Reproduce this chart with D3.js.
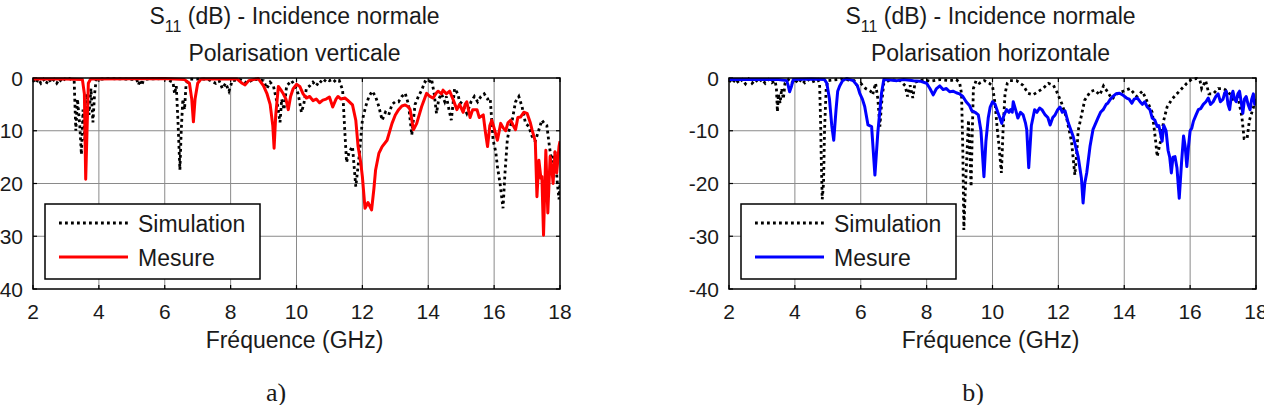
<!DOCTYPE html>
<html>
<head>
<meta charset="utf-8">
<script src="https://cdn.jsdelivr.net/npm/d3@7"></script>
<style>
  body { margin: 0; background: #fff; }
  text { font-family: "Liberation Sans", Arial, sans-serif; fill: #1a1a1a; }
</style>
</head>
<body>
<div id="chart"></div>
<script>
var width = 1264;
var height = 405;

// tick labels
var xTicks = [2, 4, 6, 8, 10, 12, 14, 16, 18];
var yTicks = [0, -10, -20, -30, -40];

// a) polarisation verticale : [GHz, dB]
var simV = [[2,-0.3],[2.08,-1],[2.16,-0.2],[2.24,-1],[2.32,-0.3],[2.4,-1.1],[2.48,-0.2],[2.56,-0.9],[2.64,-0.3],[2.72,-1],[2.8,-0.2],[2.88,-0.8],[2.96,-0.2],[3.1,-0.1],[3.25,-0.5],[3.3,-10],[3.35,-4],[3.42,-9],[3.47,-14.5],[3.52,-6],[3.58,-12],[3.63,-3],[3.7,-7],[3.76,-2],[3.82,-8.4],[3.87,-3],[3.92,-0.3],[4.3,-0.1],[4.8,-0.2],[5.15,-0.3],[5.2,-1.3],[5.25,-0.4],[5.3,-1.4],[5.35,-0.5],[5.45,-0.2],[6.0,-0.1],[6.25,-0.8],[6.3,-3],[6.35,-1.5],[6.4,-8],[6.46,-17.4],[6.5,-10],[6.55,-4],[6.6,-6],[6.65,-1],[6.75,-0.2],[7.3,-0.2],[7.55,-1],[7.65,-0.5],[7.75,-2],[7.85,-1],[7.95,-2.5],[8.05,-0.5],[8.3,-0.3],[8.5,-1],[8.7,-0.2],[9.0,-0.5],[9.1,-2],[9.2,-0.8],[9.3,-1.5],[9.42,-5],[9.5,-8.4],[9.55,-4],[9.62,-6],[9.7,-1.5],[9.85,-0.5],[9.95,-1.5],[10.05,-3],[10.15,-6.5],[10.22,-5],[10.3,-2],[10.4,-1.5],[10.5,-0.8],[10.6,-1.5],[10.7,-0.5],[10.8,-1],[10.9,-0.2],[11.0,-0.5],[11.1,-0.2],[11.2,-0.8],[11.3,-0.5],[11.4,-2.3],[11.47,-10.5],[11.52,-16],[11.6,-14],[11.7,-13],[11.8,-20.6],[11.9,-15],[12.0,-8],[12.1,-5.4],[12.2,-3.5],[12.3,-2.5],[12.4,-3.5],[12.5,-5.4],[12.6,-8],[12.7,-6.5],[12.8,-7],[12.9,-5],[13.0,-4.5],[13.1,-4.5],[13.2,-3.5],[13.3,-2.9],[13.4,-5],[13.5,-10.8],[13.6,-5],[13.7,-3.5],[13.8,-2.3],[13.9,-0.7],[14.0,-1],[14.1,-0.2],[14.18,-3],[14.25,-6.7],[14.32,-4],[14.4,-3],[14.5,-4.5],[14.55,-3.5],[14.63,-6],[14.7,-8],[14.8,-2],[14.9,-3],[14.95,-4.5],[15.05,-5],[15.17,-6.7],[15.3,-4.5],[15.4,-3.5],[15.5,-4.5],[15.6,-3.5],[15.7,-3],[15.8,-4],[15.88,-3.8],[15.97,-11.8],[16.05,-14],[16.1,-16.8],[16.18,-20],[16.27,-24.7],[16.33,-18],[16.4,-11.8],[16.45,-10],[16.55,-8],[16.65,-4.5],[16.75,-3.5],[16.85,-5.5],[16.95,-8.5],[17.05,-9.2],[17.15,-11],[17.25,-12],[17.35,-10],[17.45,-8],[17.52,-8.6],[17.6,-9],[17.68,-13],[17.75,-16],[17.85,-14],[17.92,-20],[17.97,-23],[18,-20]];
var mesV = [[2,-0.2],[3.0,-0.2],[3.5,-0.3],[3.56,-3],[3.6,-19.2],[3.64,-10],[3.68,-1],[3.75,-0.2],[6.0,-0.1],[6.6,-0.3],[6.75,-1],[6.82,-4],[6.87,-8.3],[6.92,-4],[7.0,-1],[7.1,-0.2],[8.2,-0.2],[8.35,-1],[8.44,-1.3],[8.55,-0.5],[8.84,-0.1],[9.0,-1.5],[9.1,-2.9],[9.2,-5],[9.28,-9],[9.32,-13.3],[9.37,-7],[9.45,-1.6],[9.55,-2.5],[9.6,-3],[9.68,-4],[9.75,-6],[9.82,-3.5],[9.9,-2],[10.0,-1.2],[10.1,-1.6],[10.2,-3],[10.3,-3.8],[10.4,-3.5],[10.5,-4.3],[10.6,-4],[10.7,-4.7],[10.8,-4.2],[10.9,-4],[11.0,-3.6],[11.1,-5.5],[11.2,-4],[11.26,-3.5],[11.35,-4],[11.47,-3.8],[11.55,-4.2],[11.7,-5.1],[11.8,-8],[11.87,-13],[11.95,-16],[12.0,-18.7],[12.08,-24.7],[12.17,-23.6],[12.28,-25],[12.35,-21],[12.4,-17.5],[12.5,-14.3],[12.6,-13],[12.75,-11.8],[12.9,-8.6],[13.0,-7],[13.1,-6],[13.2,-5.3],[13.3,-5.1],[13.4,-5.5],[13.45,-6],[13.55,-9.8],[13.65,-8.6],[13.8,-5.4],[13.95,-2.9],[14.05,-3.5],[14.15,-3.8],[14.25,-2.8],[14.3,-2.5],[14.4,-3],[14.45,-2.3],[14.55,-3],[14.65,-2.5],[14.75,-4],[14.87,-6],[14.95,-5],[15.06,-6.5],[15.12,-5],[15.17,-4.5],[15.27,-7.5],[15.35,-6],[15.48,-6],[15.55,-7.5],[15.67,-7],[15.73,-10],[15.8,-13],[15.87,-9],[15.93,-8],[16.0,-9.5],[16.1,-11.8],[16.2,-8.6],[16.28,-9.5],[16.35,-10],[16.42,-8.5],[16.5,-8],[16.58,-9],[16.65,-9.8],[16.72,-7.5],[16.8,-7.4],[16.9,-6.5],[17.0,-6.7],[17.1,-8.5],[17.15,-9.8],[17.25,-12],[17.3,-22.5],[17.36,-15.6],[17.42,-19],[17.45,-18.7],[17.5,-29.8],[17.57,-13.7],[17.63,-25.6],[17.7,-14.9],[17.75,-17],[17.79,-20],[17.85,-14],[17.9,-18],[17.97,-13],[18,-12]];

// b) polarisation horizontale : [GHz, dB]
var simH = [[2,-0.4],[2.1,-1],[2.2,-0.2],[2.3,-1],[2.4,-0.3],[2.5,-1.1],[2.6,-0.2],[2.7,-1],[2.8,-0.3],[2.9,-0.9],[3.0,-0.2],[3.1,-1],[3.2,-0.3],[3.3,-0.9],[3.4,-0.5],[3.44,-2],[3.47,-6.4],[3.5,-3],[3.55,-4.8],[3.6,-2],[3.65,-4],[3.7,-1],[3.8,-0.3],[3.9,-1],[4.0,-0.3],[4.1,-1],[4.2,-0.2],[4.3,-0.9],[4.4,-0.3],[4.5,-0.8],[4.7,-0.3],[4.75,-1],[4.78,-8],[4.8,-15],[4.83,-23],[4.87,-20],[4.9,-10],[4.95,-2],[5.0,-0.5],[5.4,-0.2],[5.8,-0.5],[5.9,-1.5],[6.0,-1],[6.15,-2],[6.3,-2.5],[6.36,-3.2],[6.45,-1],[6.52,-4],[6.58,-9.2],[6.63,-5],[6.7,-1],[6.9,-0.3],[7.2,-0.5],[7.35,-1.5],[7.42,-3.5],[7.5,-1.4],[7.58,-3.8],[7.65,-0.8],[7.9,-0.3],[8.1,-0.6],[8.4,-0.3],[8.7,-0.5],[8.9,-0.3],[9.0,-0.8],[9.06,-3],[9.1,-14],[9.13,-28.8],[9.17,-22],[9.22,-15],[9.27,-8],[9.3,-12],[9.35,-20.6],[9.38,-12],[9.42,-2],[9.5,-0.5],[9.6,-1],[9.75,-0.5],[9.9,-1],[10.0,-1.5],[10.08,-5],[10.15,-10],[10.2,-13],[10.27,-18],[10.32,-10],[10.38,-3],[10.45,-1],[10.53,-0.5],[10.73,-0.5],[10.93,-1.4],[11.08,-2.9],[11.23,-3.2],[11.38,-2.6],[11.53,-2],[11.7,-1],[11.85,-1.4],[11.95,-2.6],[12.1,-4.8],[12.25,-7.6],[12.4,-12.1],[12.5,-18.4],[12.56,-14],[12.6,-10],[12.7,-7.1],[12.8,-4.2],[12.97,-2.6],[13.1,-2.3],[13.26,-3.2],[13.37,-1.5],[13.48,-2.5],[13.63,-4],[13.78,-3],[13.97,-2.5],[14.17,-2],[14.38,-3.5],[14.55,-2.5],[14.7,-4.5],[14.85,-6.5],[14.95,-11.8],[15.0,-14.9],[15.1,-12],[15.2,-8],[15.3,-5.5],[15.45,-4],[15.6,-3],[15.75,-2],[15.9,-1],[16.05,-0.2],[16.2,-0.1],[16.3,-0.5],[16.35,-2],[16.47,-0.5],[16.57,-3],[16.7,-3],[16.85,-2],[17.0,-2],[17.15,-2.5],[17.3,-4],[17.45,-3.5],[17.57,-7.3],[17.64,-11.5],[17.73,-11.5],[17.8,-8],[17.9,-6],[18,-4]];
var mesH = [[2,-0.3],[3.5,-0.3],[3.75,-0.5],[3.8,-1.5],[3.84,-2.6],[3.9,-1.5],[3.95,-0.3],[4.5,-0.2],[4.9,-0.3],[4.97,-1],[5.05,-4],[5.12,-9],[5.18,-11.8],[5.25,-6],[5.3,-2.5],[5.36,-1.5],[5.45,-0.5],[5.57,-0.1],[5.77,-0.5],[5.9,-1.5],[5.97,-2.9],[6.05,-4],[6.12,-5.4],[6.22,-8.9],[6.33,-9.2],[6.43,-18.4],[6.52,-10.2],[6.63,-2.9],[6.7,-0.3],[6.9,-0.4],[7.1,-0.5],[7.3,-0.3],[7.6,-0.5],[7.8,-0.6],[8.0,-1],[8.1,-2],[8.2,-3.2],[8.3,-2],[8.4,-1.5],[8.5,-2.2],[8.6,-2],[8.7,-2.6],[8.8,-2.5],[8.9,-2.8],[9.0,-3],[9.1,-3.5],[9.2,-4.5],[9.3,-5.2],[9.37,-6.2],[9.47,-6.5],[9.57,-7],[9.65,-10],[9.74,-18.7],[9.8,-12],[9.87,-7.6],[9.93,-5.5],[10.0,-4.5],[10.08,-5],[10.16,-6.5],[10.22,-7.5],[10.28,-8.6],[10.35,-7],[10.43,-6],[10.5,-6.5],[10.55,-6],[10.6,-6.5],[10.63,-4.5],[10.7,-6],[10.77,-7.6],[10.85,-6.5],[10.93,-7],[11.0,-8.5],[11.04,-9.8],[11.1,-17],[11.15,-12],[11.18,-9],[11.28,-6],[11.35,-6.5],[11.43,-5.7],[11.5,-6],[11.6,-7],[11.68,-7.5],[11.75,-8.9],[11.83,-7.5],[11.9,-7],[11.98,-6],[12.05,-5.5],[12.12,-6.5],[12.2,-6.2],[12.3,-8.5],[12.45,-11.1],[12.6,-14.9],[12.7,-19],[12.75,-23.7],[12.8,-20],[12.86,-18],[12.96,-13],[13.05,-9.8],[13.2,-7.6],[13.28,-6.5],[13.36,-6],[13.45,-5],[13.5,-4.8],[13.58,-4],[13.66,-3.5],[13.75,-3],[13.86,-2.9],[13.95,-3.2],[14.07,-3.8],[14.15,-4],[14.23,-4.8],[14.3,-4],[14.4,-3.8],[14.48,-4.5],[14.55,-5],[14.62,-4.5],[14.7,-5.5],[14.78,-6],[14.85,-7.6],[14.93,-8],[15.0,-9.2],[15.05,-9],[15.1,-10.5],[15.15,-12],[15.2,-9],[15.27,-10],[15.33,-13.7],[15.38,-15],[15.43,-18],[15.48,-15],[15.54,-14.9],[15.6,-17],[15.67,-22.8],[15.74,-16],[15.8,-11],[15.85,-13],[15.9,-16.8],[15.95,-13],[16.0,-10],[16.05,-9.5],[16.1,-8.2],[16.18,-7],[16.25,-6],[16.32,-5.8],[16.4,-5],[16.48,-4.5],[16.55,-3.8],[16.62,-5],[16.7,-4.5],[16.78,-3.5],[16.85,-3],[16.92,-4.5],[17.0,-4],[17.05,-2.8],[17.1,-2.5],[17.15,-5],[17.2,-6],[17.25,-3.5],[17.3,-2.5],[17.35,-4],[17.4,-4.5],[17.45,-3],[17.5,-2.5],[17.55,-4.5],[17.6,-6.7],[17.65,-4],[17.7,-3.5],[17.76,-5],[17.82,-6],[17.87,-4],[17.92,-3],[17.96,-5],[18,-4]];

var svg = d3.select("#chart").append("svg")
  .attr("width", width)
  .attr("height", height)

var plotTop = 78, plotBottom = 289;

function panel(id, left, right, sim, mes, color, subtitle, caption, capX) {
  var x = d3.scaleLinear().domain([2, 18]).range([left, right])
  var y = d3.scaleLinear().domain([-40, 0]).range([plotBottom, plotTop])
  var g = svg.append("g")
  var cx = (left + right) / 2

  g.append("clipPath").attr("id", "clip" + id)
    .append("rect")
    .attr("x", left).attr("y", plotTop - 1)
    .attr("width", right - left).attr("height", plotBottom - plotTop + 1)

  // grid
  g.selectAll(".gx").data(xTicks.slice(1, -1)).enter().append("line")
    .attr("x1", function(d) { return x(d) }).attr("x2", function(d) { return x(d) })
    .attr("y1", plotTop).attr("y2", plotBottom)
    .attr("stroke", "#8a8a8a").attr("stroke-width", 1)
  g.selectAll(".gy").data(yTicks.slice(1, -1)).enter().append("line")
    .attr("x1", left).attr("x2", right)
    .attr("y1", function(d) { return y(d) }).attr("y2", function(d) { return y(d) })
    .attr("stroke", "#8a8a8a").attr("stroke-width", 1)

  // ticks inward on all four sides
  var tk = 4
  xTicks.forEach(function(d) {
    g.append("line").attr("x1", x(d)).attr("x2", x(d)).attr("y1", plotBottom).attr("y2", plotBottom - tk)
      .attr("stroke", "#000").attr("stroke-width", 1.2)
    g.append("line").attr("x1", x(d)).attr("x2", x(d)).attr("y1", plotTop).attr("y2", plotTop + tk)
      .attr("stroke", "#000").attr("stroke-width", 1.2)
  })
  yTicks.forEach(function(d) {
    g.append("line").attr("x1", left).attr("x2", left + tk).attr("y1", y(d)).attr("y2", y(d))
      .attr("stroke", "#000").attr("stroke-width", 1.2)
    g.append("line").attr("x1", right).attr("x2", right - tk).attr("y1", y(d)).attr("y2", y(d))
      .attr("stroke", "#000").attr("stroke-width", 1.2)
  })

  var line = d3.line()
    .x(function(d) { return x(d[0]) })
    .y(function(d) { return y(d[1]) })

  var curves = g.append("g").attr("clip-path", "url(#clip" + id + ")")
  curves.append("path").datum(sim)
    .attr("d", line)
    .attr("fill", "none")
    .attr("stroke", "#000")
    .attr("stroke-width", 2.8)
    .attr("stroke-dasharray", "2.8,3.2")
  curves.append("path").datum(mes)
    .attr("d", line)
    .attr("fill", "none")
    .attr("stroke", color)
    .attr("stroke-width", 3)
    .attr("stroke-linejoin", "round")

  // frame
  g.append("rect")
    .attr("x", left).attr("y", plotTop)
    .attr("width", right - left).attr("height", plotBottom - plotTop)
    .attr("fill", "none").attr("stroke", "#000").attr("stroke-width", 1.5)

  // tick labels
  g.selectAll(".xl").data(xTicks).enter().append("text")
    .attr("x", function(d) { return x(d) })
    .attr("y", 319)
    .attr("text-anchor", "middle")
    .attr("font-size", "21px")
    .text(function(d) { return d })
  g.selectAll(".yl").data(yTicks).enter().append("text")
    .attr("x", left - 10)
    .attr("y", function(d) { return y(d) + 7.5 })
    .attr("text-anchor", "end")
    .attr("font-size", "21px")
    .text(function(d) { return d === 0 ? "0" : "-" + Math.abs(d) })

  // titles
  var t1 = g.append("text")
    .attr("x", cx - 2).attr("y", 24)
    .attr("text-anchor", "middle")
    .attr("font-size", "23px")
  t1.append("tspan").text("S")
  t1.append("tspan").attr("dy", 8).attr("font-size", "16px").text("11")
  t1.append("tspan").attr("dy", -8).text(" (dB) - Incidence normale")
  g.append("text")
    .attr("x", cx - 2).attr("y", 61)
    .attr("text-anchor", "middle")
    .attr("font-size", "23px")
    .text(subtitle)
  g.append("text")
    .attr("x", cx - 2).attr("y", 348)
    .attr("text-anchor", "middle")
    .attr("font-size", "23px")
    .text("Fréquence (GHz)")
  g.append("text")
    .attr("x", capX).attr("y", 401)
    .attr("text-anchor", "middle")
    .attr("font-size", "26px")
    .style("font-family", "'Liberation Serif', 'Times New Roman', serif")
    .text(caption)

  // legend
  var lx = left + 12, ly = 204
  g.append("rect")
    .attr("x", lx).attr("y", ly)
    .attr("width", 215).attr("height", 75)
    .attr("fill", "#fff").attr("stroke", "#000").attr("stroke-width", 1.5)
  g.append("line")
    .attr("x1", lx + 14).attr("x2", lx + 83).attr("y1", ly + 19).attr("y2", ly + 19)
    .attr("stroke", "#000").attr("stroke-width", 2.8).attr("stroke-dasharray", "2.8,3.2")
  g.append("line")
    .attr("x1", lx + 14).attr("x2", lx + 83).attr("y1", ly + 53).attr("y2", ly + 53)
    .attr("stroke", color).attr("stroke-width", 3)
  g.append("text")
    .attr("x", lx + 93).attr("y", ly + 28)
    .attr("font-size", "23px")
    .text("Simulation")
  g.append("text")
    .attr("x", lx + 93).attr("y", ly + 62)
    .attr("font-size", "23px")
    .text("Mesure")
}

panel("a", 33, 560, simV, mesV, "#ff0000", "Polarisation verticale", "a)", 276)
panel("b", 729, 1256, simH, mesH, "#0000ff", "Polarisation horizontale", "b)", 973)
</script>
</body>
</html>
